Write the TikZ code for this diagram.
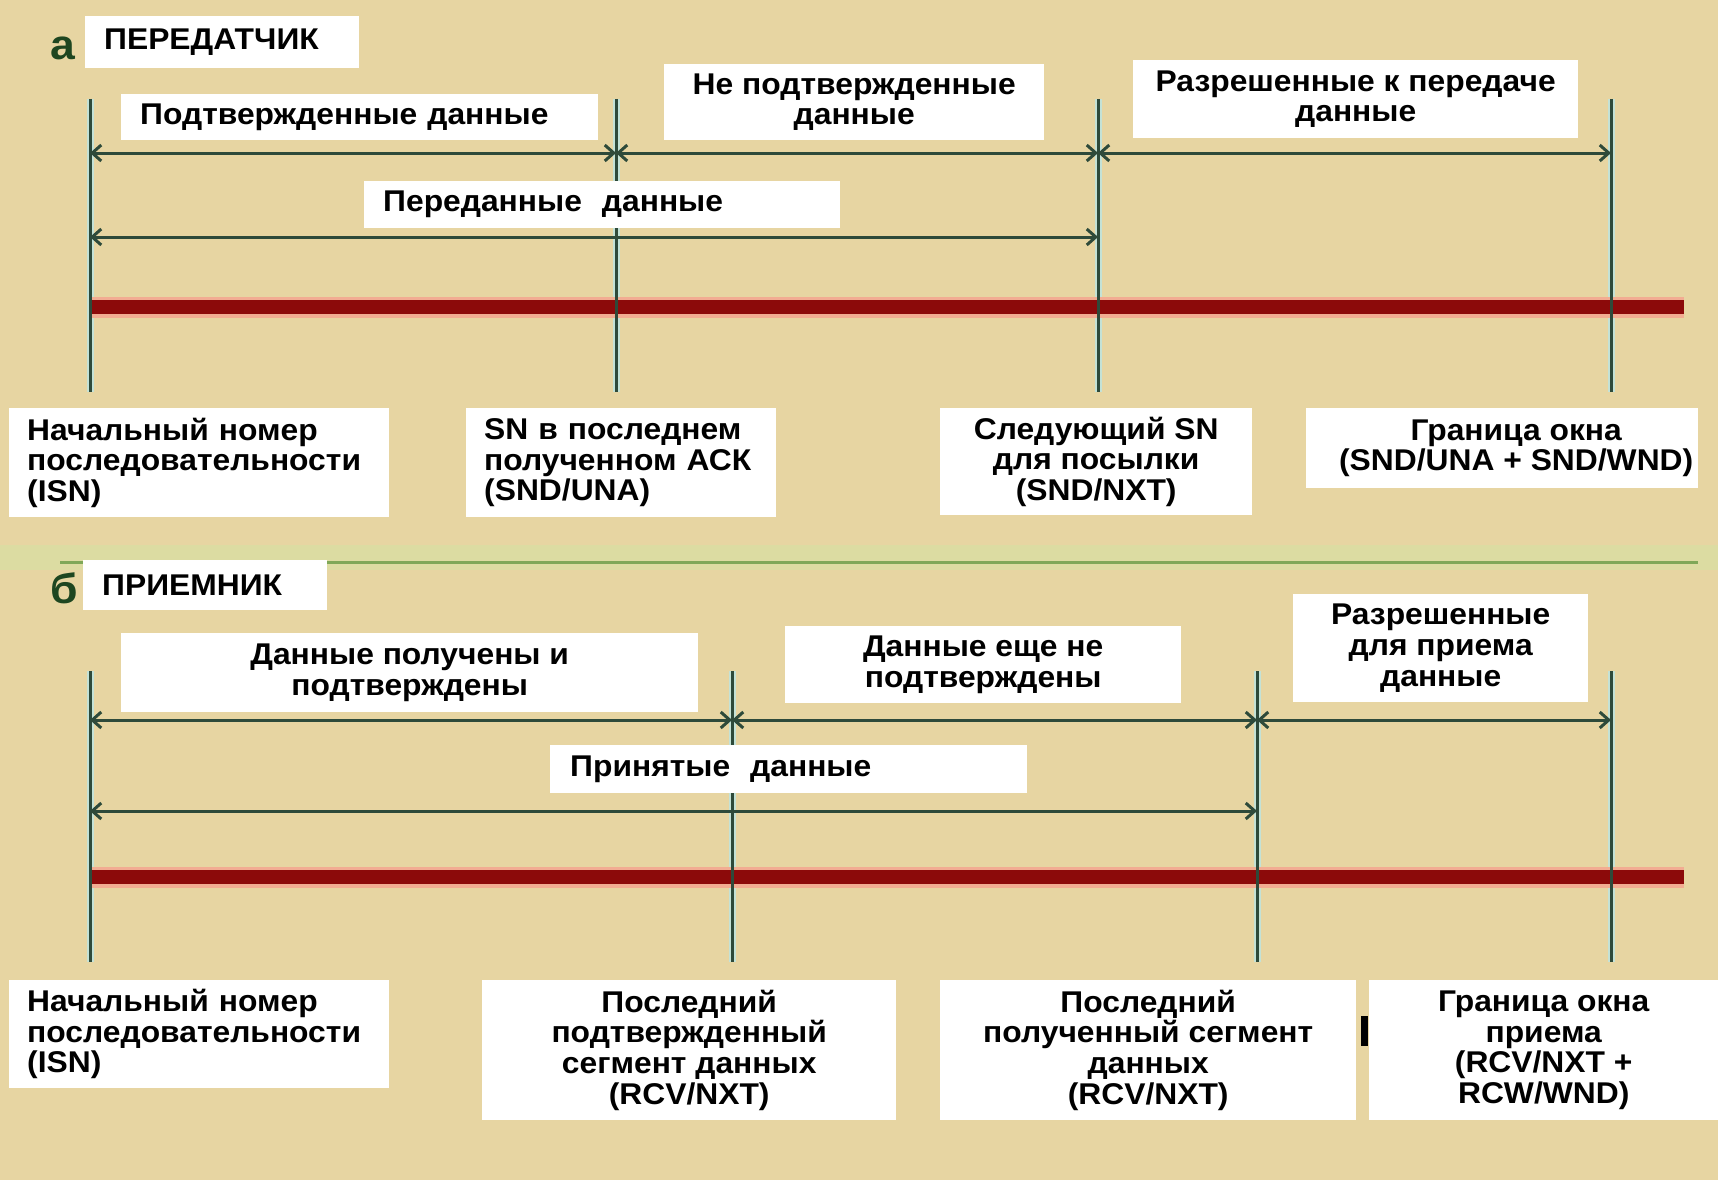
\documentclass[tikz,border=0pt]{standalone}
\usepackage{fontspec}
\setmainfont{Liberation Sans}[FakeStretch=1.06]
\usetikzlibrary{arrows.meta}

\definecolor{bgtan}{HTML}{E7D5A2}
\definecolor{guide}{HTML}{2E4A3A}
\definecolor{guidehalo}{HTML}{C4E2D6}
\definecolor{barred}{HTML}{8C0A0A}
\definecolor{barhalo}{HTML}{F2AC92}
\definecolor{sepgreen}{HTML}{7FA858}
\definecolor{sepband}{HTML}{CFE6A4}
\definecolor{tagcol}{HTML}{1E4620}

\newcommand\lblfont{\fontsize{30}{30.6}\selectfont\bfseries}

\begin{document}
\begin{tikzpicture}[x=1pt,y=-1pt,
  lbox/.style={fill=white, anchor=north west, inner ysep=0pt, inner xsep=19pt,
               align=left, font=\lblfont, text=black},
  cbox/.style={fill=white, anchor=north west, inner sep=0pt,
               align=center, font=\lblfont, text=black},
  ctext/.style={inner sep=0pt, align=center, font=\lblfont, text=black},
  tag/.style={anchor=base west, inner sep=0pt, font=\fontsize{42}{42}\selectfont\bfseries, text=tagcol},
  vhalo/.style={draw=guidehalo, line width=7pt},
  vline/.style={draw=guide, line width=3pt},
  span/.style={draw=guide, line width=3pt,
               {Straight Barb[length=9pt,width=16pt]}-{Straight Barb[length=9pt,width=16pt]}},
  seqhalo/.style={draw=barhalo, line width=21pt},
  seqbar/.style={draw=barred, line width=14pt}
]
% background
\fill[bgtan] (0,0) rectangle (1718,1180);
\useasboundingbox (0,0) rectangle (1718,1180);

% separator between the two panels
\fill[sepband, opacity=0.45] (0,545) rectangle (1718,570);
\coordinate (sepL) at (60,562);
\coordinate (sepR) at (1698,562);
\draw[sepgreen, line width=3pt] (sepL) -- (sepR);

% ---------------- sender ----------------
\foreach \n/\x in {a1/90, a2/616, a3/1098, a4/1611} {
  \coordinate (\n t) at (\x,99);
  \coordinate (\n b) at (\x,392);
  \coordinate (\n u) at (\x,153);
  \coordinate (\n l) at (\x,237);
  \coordinate (\n r) at (\x,307);
}
\coordinate (sbarR) at (1684,307);
\foreach \n in {a1,a2,a3,a4} { \draw[vhalo] (\n t) -- (\n b); }
\draw[seqhalo] (a1r) -- (sbarR);
\draw[seqbar] (a1r) -- (sbarR);
\foreach \n in {a1,a2,a3,a4} { \draw[vline] (\n t) -- (\n b); }
\draw[span] (a1u) -- (a2u);
\draw[span] (a2u) -- (a3u);
\draw[span] (a3u) -- (a4u);
\draw[span] (a1l) -- (a3l);

\node[tag] (tagA) at (50,60) {а};
\node[lbox, minimum width=274, minimum height=52, text width=236] (hdrA) at (85,16) {ПЕРЕДАТЧИК};
\node[lbox, minimum width=477, minimum height=46, text width=439] (ackd) at (121,94) {Подтвержденные данные};
\node[cbox, minimum width=380, minimum height=76] (unackd) at (664,64) {Не подтвержденные\\данные};
\node[cbox, minimum width=445, minimum height=78] (allowA) at (1133,60) {Разрешенные к передаче\\данные};
\node[lbox, minimum width=476, minimum height=47, text width=438] (sent) at (364,181) {Переданные\ \ данные};

\node[lbox, inner xsep=18pt, minimum width=380, minimum height=109, text width=344] (isnA) at (9,408)
  {Начальный номер\\последовательности\\(ISN)};
\node[lbox, inner xsep=18pt, minimum width=310, minimum height=109, text width=274] (una) at (466,408)
  {SN в последнем\\полученном АСК\\(SND/UNA)};
\node[cbox, minimum width=312, minimum height=107] (nxt) at (940,408)
  {Следующий SN\\для посылки\\(SND/NXT)};
\node[cbox, minimum width=392, minimum height=80] (winA) at (1306,408) {};
\node[ctext] (winAtxt) at ([xshift=14pt]winA.center) {Граница окна\\(SND/UNA + SND/WND)};

% ---------------- receiver ----------------
\foreach \n/\x in {b1/90, b2/732, b3/1257, b4/1611} {
  \coordinate (\n t) at (\x,671);
  \coordinate (\n b) at (\x,962);
  \coordinate (\n u) at (\x,720);
  \coordinate (\n l) at (\x,811);
  \coordinate (\n r) at (\x,877);
}
\coordinate (rbarR) at (1684,877);
\foreach \n in {b1,b2,b3,b4} { \draw[vhalo] (\n t) -- (\n b); }
\draw[seqhalo] (b1r) -- (rbarR);
\draw[seqbar] (b1r) -- (rbarR);
\foreach \n in {b1,b2,b3,b4} { \draw[vline] (\n t) -- (\n b); }
\draw[span] (b1u) -- (b2u);
\draw[span] (b2u) -- (b3u);
\draw[span] (b3u) -- (b4u);
\draw[span] (b1l) -- (b3l);

\node[tag] (tagB) at (50,603) {б};
\node[lbox, minimum width=244, minimum height=50, text width=206] (hdrB) at (83,560) {ПРИЕМНИК};
\node[cbox, minimum width=577, minimum height=79] (rcvd) at (121,633) {Данные получены и\\подтверждены};
\node[cbox, minimum width=396, minimum height=77] (notack) at (785,626) {Данные еще не\\подтверждены};
\node[cbox, minimum width=295, minimum height=108] (allowB) at (1293,594) {Разрешенные\\для приема\\данные};
\node[lbox, inner xsep=20pt, minimum width=477, minimum height=48, text width=437] (accepted) at (550,745) {Принятые\ \ данные};

\node[lbox, inner xsep=18pt, minimum width=380, minimum height=108, text width=344] (isnB) at (9,980)
  {Начальный номер\\последовательности\\(ISN)};
\node[cbox, minimum width=414, minimum height=140] (lastack) at (482,980)
  {Последний\\подтвержденный\\сегмент данных\\(RCV/NXT)};
\node[cbox, minimum width=416, minimum height=140] (lastrcv) at (940,980)
  {Последний\\полученный сегмент\\данных\\(RCV/NXT)};
\node[cbox, minimum width=349, minimum height=140] (winB) at (1369,980)
  {Граница окна\\приема\\(RCV/NXT +\\RCW/WND)};
\fill[black] (1361,1016) rectangle (1368,1046);

\end{tikzpicture}
\end{document}
